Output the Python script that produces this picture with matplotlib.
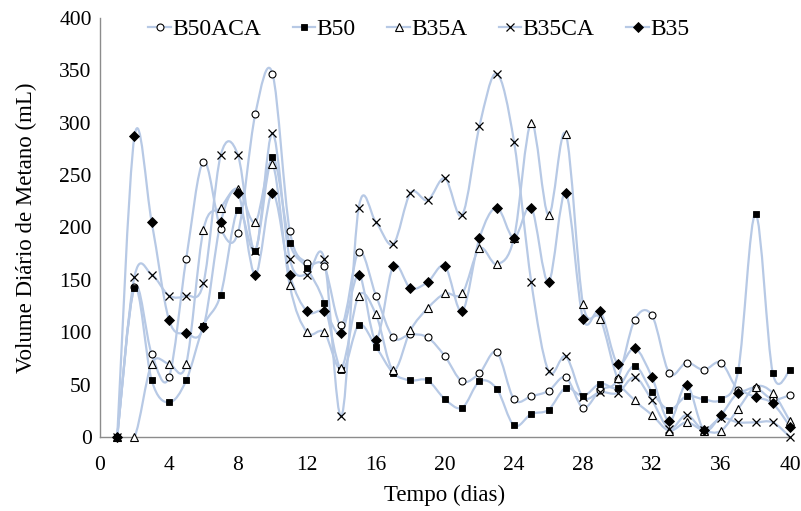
import numpy as np
import matplotlib
matplotlib.use("Agg")
import matplotlib.pyplot as plt
from matplotlib.path import Path
from matplotlib.patches import PathPatch
from matplotlib.lines import Line2D

days = list(range(1, 41))

b50aca = [0, 143, 79, 57, 170, 263, 199, 195, 308, 347,
          197, 166, 163, 107, 177, 135, 95, 98, 95, 77,
          53, 61, 81, 36, 39, 44, 57, 28, 45, 55,
          112, 116, 61, 71, 64, 71, 45, 47, 36, 40]
b50 = [0, 142, 54, 33, 54, 106, 136, 217, 178, 267,
       185, 161, 128, 64, 107, 86, 61, 54, 54, 36,
       28, 53, 46, 11, 22, 26, 47, 39, 51, 47,
       68, 43, 26, 39, 36, 36, 64, 213, 61, 64]
b35a = [0, 0, 70, 70, 70, 198, 219, 237, 205, 261,
        145, 100, 100, 66, 135, 117, 64, 102, 123, 137,
        137, 180, 165, 190, 300, 212, 289, 127, 113, 56,
        35, 21, 6, 14, 6, 6, 27, 48, 42, 15]
b35ca = [0, 153, 155, 135, 135, 147, 269, 269, 178, 290,
         170, 155, 170, 20, 219, 205, 184, 233, 226, 247,
         212, 297, 347, 282, 148, 63, 77, 38, 43, 42,
         57, 35, 8, 21, 7, 18, 14, 14, 14, 0]
b35 = [0, 287, 205, 112, 99, 105, 205, 233, 155, 233,
       155, 120, 120, 99, 155, 93, 163, 142, 148, 163,
       120, 190, 219, 190, 219, 148, 233, 113, 120, 70,
       85, 57, 15, 50, 7, 21, 42, 38, 32, 10]

series_names = ["B50ACA", "B50", "B35A", "B35CA", "B35"]
series_vals = [b50aca, b50, b35a, b35ca, b35]
x_ticks = [0, 4, 8, 12, 16, 20, 24, 28, 32, 36, 40]
y_ticks = [0, 50, 100, 150, 200, 250, 300, 350, 400]

line_color = "#B7C9E5"
marker_styles = [
    dict(marker="o", markersize=5, markerfacecolor="white", markeredgecolor="black", markeredgewidth=0.8),
    dict(marker="s", markersize=4.6, markerfacecolor="black", markeredgecolor="black", markeredgewidth=0.6),
    dict(marker="^", markersize=6, markerfacecolor="white", markeredgecolor="black", markeredgewidth=0.8),
    dict(marker="x", markersize=5.5, markerfacecolor="none", markeredgecolor="black", markeredgewidth=0.9),
    dict(marker="D", markersize=4.6, markerfacecolor="black", markeredgecolor="black", markeredgewidth=0.6),
]

plt.rcParams['font.family'] = ['Liberation Serif', 'DejaVu Serif']

fig = plt.figure(figsize=(8.01, 5.11), dpi=100)
ax = fig.add_axes([0.1248, 0.1448, 0.8615, 0.82])


def smooth_path(xs, ys):
    xs = np.asarray(xs, float)
    ys = np.asarray(ys, float)
    n = len(xs)
    verts = [(xs[0], ys[0])]
    codes = [Path.MOVETO]
    for i in range(n - 1):
        i0 = max(i - 1, 0)
        i3 = min(i + 2, n - 1)
        c1 = (xs[i] + (xs[i + 1] - xs[i0]) / 6.0, ys[i] + (ys[i + 1] - ys[i0]) / 6.0)
        c2 = (xs[i + 1] - (xs[i3] - xs[i]) / 6.0, ys[i + 1] - (ys[i3] - ys[i]) / 6.0)
        verts += [c1, c2, (xs[i + 1], ys[i + 1])]
        codes += [Path.CURVE4, Path.CURVE4, Path.CURVE4]
    return Path(verts, codes)


for vals in series_vals:
    patch = PathPatch(smooth_path(days, vals), facecolor="none", edgecolor=line_color,
                      linewidth=1.6, zorder=2, capstyle="round", joinstyle="round")
    ax.add_patch(patch)

handles = []
for name, vals, ms in zip(series_names, series_vals, marker_styles):
    ax.plot(days, vals, linestyle="none", zorder=3, clip_on=False, **ms)
    handles.append(Line2D([0], [0], color=line_color, linewidth=1.6, label=name, **ms))

ax.set_xlim(0, 40)
ax.set_ylim(0, 400)
ax.set_xticks(x_ticks)
ax.set_yticks(y_ticks)
ax.tick_params(axis="y", length=0, labelsize=15.5, pad=6)
ax.tick_params(axis="x", length=0, labelsize=15.5, pad=14)
for s in ["top", "right"]:
    ax.spines[s].set_visible(False)
for s in ["left", "bottom"]:
    ax.spines[s].set_color("#8C8C8C")
    ax.spines[s].set_linewidth(1.0)

ax.set_xlabel("Tempo (dias)", fontsize=16.5, labelpad=7)
ax.set_ylabel("Volume Diário de Metano (mL)", fontsize=16.5, labelpad=16)

leg = ax.legend(handles=handles, loc="center", bbox_to_anchor=(0.462, 0.972), ncol=5,
                frameon=False, fontsize=17, handlelength=0.95, handletextpad=0.05,
                columnspacing=1.35, borderaxespad=0)

fig.savefig("out.png", dpi=100)
